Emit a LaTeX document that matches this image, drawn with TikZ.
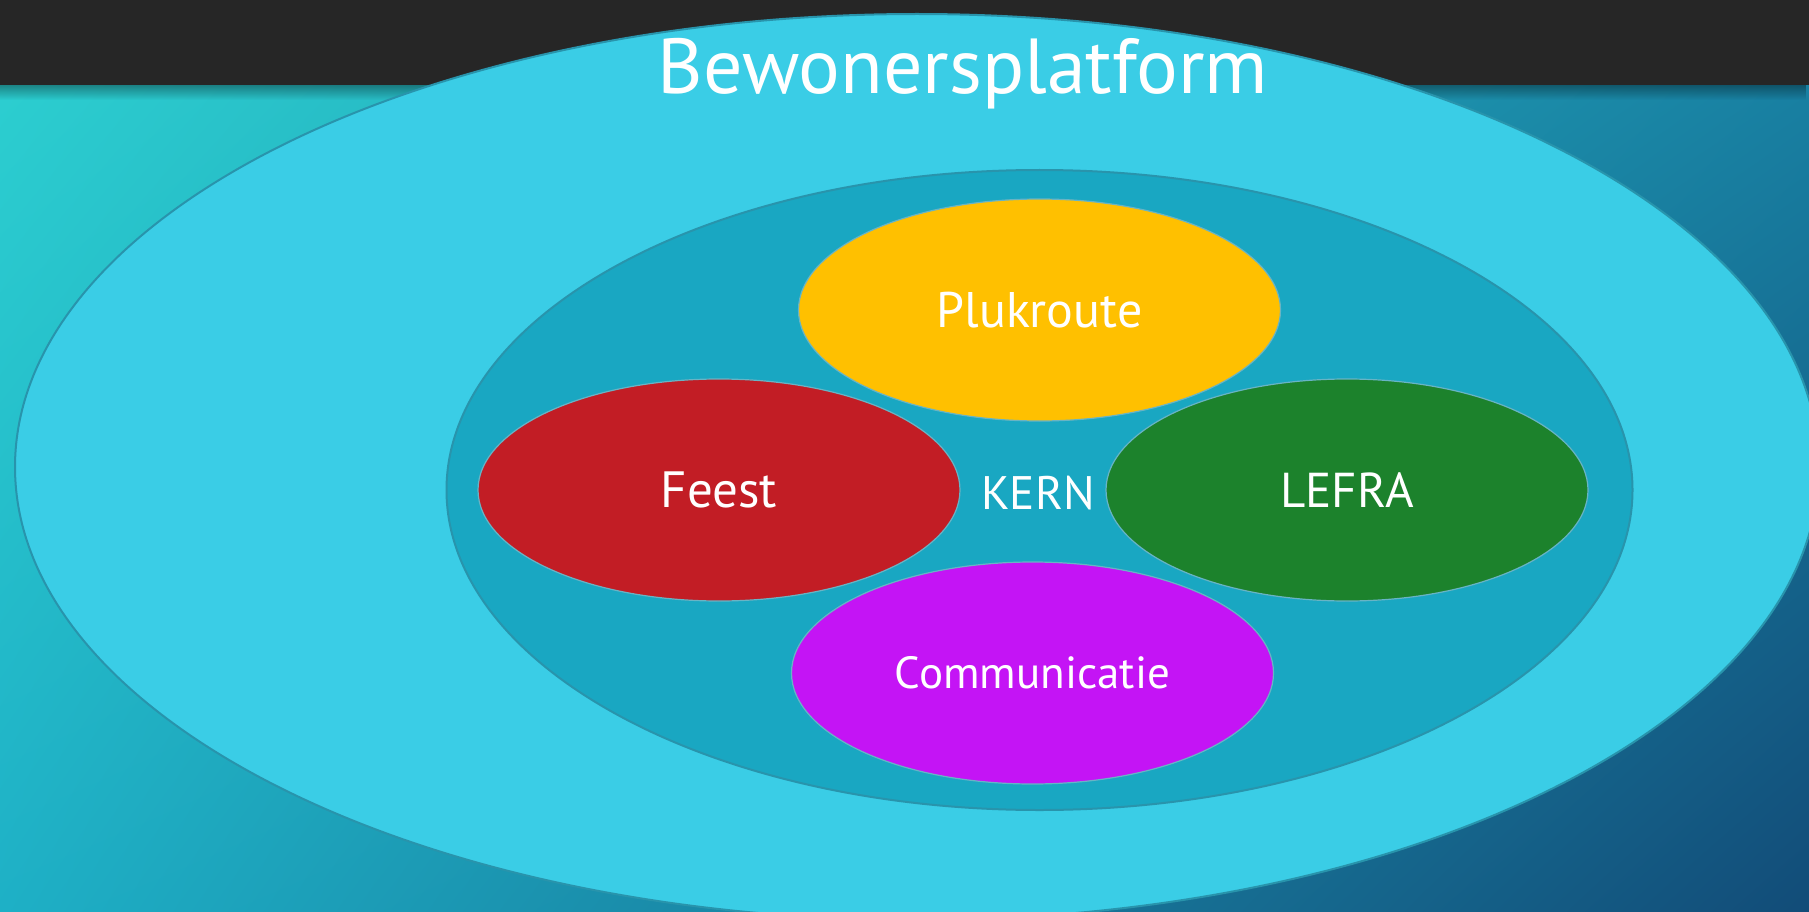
\documentclass[tikz,border=0pt]{standalone}
\usepackage{fontspec}
\setmainfont{PT Sans}
\usepackage{xcolor}
\usetikzlibrary{shapes.geometric,fadings,shadings}

\definecolor{barcol}{RGB}{38,38,38}
\definecolor{platcol}{RGB}{58,205,230}
\definecolor{kerncol}{RGB}{25,167,194}
\definecolor{rimcol}{RGB}{40,148,172}
\definecolor{plukcol}{RGB}{255,192,0}
\definecolor{feestcol}{RGB}{194,29,37}
\definecolor{lefracol}{RGB}{28,130,44}
\definecolor{commcol}{RGB}{196,20,245}
\definecolor{bgul}{RGB}{44,206,208}
\definecolor{bgur}{RGB}{24,128,162}
\definecolor{bgll}{RGB}{30,176,198}
\definecolor{bglr}{RGB}{18,76,120}

\begin{document}
\begin{tikzpicture}[
  x=1pt,y=-1pt,
  ring/.style={ellipse,draw=rimcol,line width=2pt,inner sep=0pt},
  team/.style={ellipse,draw=rimcol!70,line width=1.2pt,inner sep=0pt,
               minimum width=482pt,minimum height=222pt,text=white},
  fs/.style={font=\fontsize{#1}{#1}\selectfont},
]
\useasboundingbox (0,0) rectangle (1809,912);
% background and title bar
\shade[upper left=bgul,upper right=bgur,lower left=bgll,lower right=bglr]
  (0,85) rectangle (1809,912);
\fill[black,opacity=0.35,path fading=south] (0,85) rectangle (1809,100);
\fill[barcol] (0,0) rectangle (1809,85);

\node[ring,fill=platcol,minimum width=1804pt,minimum height=906pt] (platform) at (917,467) {};
\node[ring,fill=kerncol,minimum width=1186pt,minimum height=640pt] (kern) at (1039.5,490) {};
\node[text=white,fs=78] (title) at (963,74) {Bewonersplatform};

\node[team,fill=plukcol,fs=50]  (pluk)  at (1039.5,310) {Plukroute};
\node[team,fill=feestcol,fs=51] (feest) at (719,490)    {Feest};
\node[team,fill=lefracol,fs=49] (lefra) at (1347,490)   {LEFRA};
\node[team,fill=commcol,fs=45]  (comm)  at (1032.5,673) {Communicatie};
\node[text=white,fs=47] (kernlbl) at (1038,493) {KERN};
\end{tikzpicture}
\end{document}
